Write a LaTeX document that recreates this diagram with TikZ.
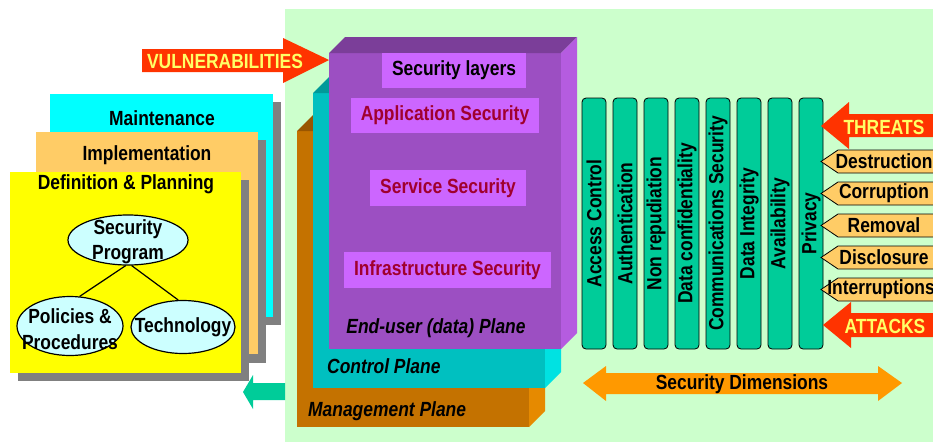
\documentclass[tikz,border=0pt]{standalone}
\usepackage{fontspec}
\setmainfont{Liberation Sans}[FakeStretch=0.85]
\usetikzlibrary{shapes.geometric}
\definecolor{bggreen}{HTML}{CCFFCC}
\definecolor{vred}{HTML}{FF3300}
\definecolor{vyel}{HTML}{FFFF66}
\definecolor{mcyan}{HTML}{00FFFF}
\definecolor{peach}{HTML}{FFCC66}
\definecolor{dyel}{HTML}{FFFF00}
\definecolor{shgray}{HTML}{808080}
\definecolor{ellfill}{HTML}{CCFFFF}
\definecolor{tealg}{HTML}{00CC99}
\definecolor{brfront}{HTML}{C47200}
\definecolor{brtop}{HTML}{995500}
\definecolor{brside}{HTML}{E68A00}
\definecolor{cpfront}{HTML}{00C0C0}
\definecolor{cptop}{HTML}{009999}
\definecolor{cpside}{HTML}{00E2E2}
\definecolor{pufront}{HTML}{9C4FC2}
\definecolor{putop}{HTML}{7B3E99}
\definecolor{puside}{HTML}{B55CE0}
\definecolor{lblbox}{HTML}{CC66FF}
\definecolor{lbltext}{HTML}{A0002E}
\definecolor{sdorange}{HTML}{FF9900}
\tikzset{
  txt/.style={font=\fontsize{20.5}{22}\selectfont\bfseries, inner sep=0pt},
  itxt/.style={font=\fontsize{20.5}{22}\selectfont\bfseries\itshape, inner sep=0pt},
  ell/.style={ellipse, draw=black, line width=1.2pt, fill=ellfill, inner sep=0pt},
  lbl/.style={txt, fill=lblbox, text=lbltext},
  bar/.style={txt, rotate=90, rounded corners=4pt, draw=black, line width=0.8pt, fill=tealg, minimum width=251pt, minimum height=24pt},
  pent/.style={fill=peach, draw=black, line width=0.8pt},
}
\begin{document}
\begin{tikzpicture}[x=1pt,y=-1pt]
\useasboundingbox (0,0) rectangle (933,442);
% background
\fill[bggreen] (285,9) rectangle (940,442);
% teal return arrow
\fill[tealg] (243,392) -- (253,375) -- (253,383) -- (285,383) -- (285,400) -- (253,400) -- (253,409) -- cycle;
% left stacked boxes
\fill[shgray] (58,102) rectangle (281,325);
\fill[mcyan] (50,94) rectangle (273,317);
\fill[shgray] (44,140) rectangle (266,363);
\fill[peach] (36,132) rectangle (258,354);
\fill[shgray] (18,180) rectangle (249,381);
\fill[dyel] (10,172) rectangle (241,373);
\node[txt] (mnt) at (162,118) {Maintenance};
\node[txt] (imp) at (147,155) {Implementation};
\node[txt] (def) at (126,184) {Definition \& Planning};
% ellipses
\node[ell, minimum width=120pt, minimum height=50pt] (sp) at (128,240) {};
\node[ell, minimum width=106pt, minimum height=59pt] (pp) at (70,326) {};
\node[ell, minimum width=104pt, minimum height=53pt] (tech) at (183,327) {};
\node[txt, align=center] (spt) at (128,242) {Security\\[3pt]Program};
\node[txt, align=center] (ppt) at (70,329) {Policies \&\\[4pt]Procedures};
\node[txt] (techt) at (183,327) {Technology};
\draw[line width=1.2pt] (sp.-95) -- (pp.72);
\draw[line width=1.2pt] (sp.-82) -- (tech.100);
% vulnerabilities arrow
\fill[vred] (142,49) -- (283,49) -- (283,38) -- (329,60) -- (283,83) -- (283,72) -- (142,72) -- cycle;
\node[txt, text=vyel] (vul) at (225,61) {VULNERABILITIES};
% management plane
\fill[brfront] (297,131) rectangle (529,427);
\fill[brtop] (297,131) -- (313,115) -- (545,115) -- (529,131) -- cycle;
\fill[brside] (529,131) -- (545,115) -- (545,411) -- (529,427) -- cycle;
% control plane
\fill[cpfront] (313,93) rectangle (545,388);
\fill[cptop] (313,93) -- (329,77) -- (561,77) -- (545,93) -- cycle;
\fill[cpside] (545,93) -- (561,77) -- (561,372) -- (545,388) -- cycle;
% end-user plane
\fill[pufront] (329,53) rectangle (561,349);
\fill[putop] (329,53) -- (345,37) -- (577,37) -- (561,53) -- cycle;
\fill[puside] (561,53) -- (577,37) -- (577,333) -- (561,349) -- cycle;
% labels
\node[lbl, text=black, minimum width=144pt, minimum height=35pt] (sl) at (454,70.5) {Security layers};
\node[lbl, minimum width=188pt, minimum height=35pt] (as) at (445,115.5) {Application Security};
\node[lbl, minimum width=156pt, minimum height=36pt] (ss) at (448,188) {Service Security};
\node[lbl, minimum width=207pt, minimum height=36pt] (is) at (447.5,270) {Infrastructure Security};
\node[itxt] (eup) at (436,328) {End-user (data) Plane};
\node[itxt, anchor=west] (cp) at (327,366) {Control Plane};
\node[itxt, anchor=west] (mp) at (308,411) {Management Plane};
% security dimensions bars
\node[bar] (b1) at (594,223.5) {Access Control};
\node[bar] (b2) at (625,223.5) {Authentication};
\node[bar] (b3) at (656,223.5) {Non repudiation};
\node[bar] (b4) at (687,223.5) {Data confidentiality};
\node[bar] (b5) at (718,223.5) {Communications Security};
\node[bar] (b6) at (749,223.5) {Data Integrity};
\node[bar] (b7) at (780,223.5) {Availability};
\node[bar] (b8) at (811,223.5) {Privacy};
% threats / attacks
\fill[vred] (940,114) -- (849,114) -- (849,102) -- (821,126) -- (849,149) -- (849,137) -- (940,137) -- cycle;
\node[txt, text=vyel] (thr) at (884,127) {THREATS};
\foreach \c/\t/\n/\x in {161.5/Destruction/t1/884, 193.5/Corruption/t2/884, 225.5/Removal/t3/884, 257.5/Disclosure/t4/884, 289.5/Interruptions/t5/881} {
  \draw[pent] (821,\c) -- (838,\c-11.5) -- (945,\c-11.5) -- (945,\c+11.5) -- (838,\c+11.5) -- cycle;
  \node[txt] (\n) at (\x,\c) {\t};
}
\fill[vred] (940,313) -- (851,313) -- (851,302) -- (823,325) -- (851,348) -- (851,337) -- (940,337) -- cycle;
\node[txt, text=vyel] (att) at (885,326) {ATTACKS};
% security dimensions arrow
\fill[sdorange] (583,383) -- (606,366) -- (606,373) -- (878,373) -- (878,366) -- (902,383) -- (878,401) -- (878,394) -- (606,394) -- (606,401) -- cycle;
\node[txt] (sd) at (742,384) {Security Dimensions};
\end{tikzpicture}
\end{document}
